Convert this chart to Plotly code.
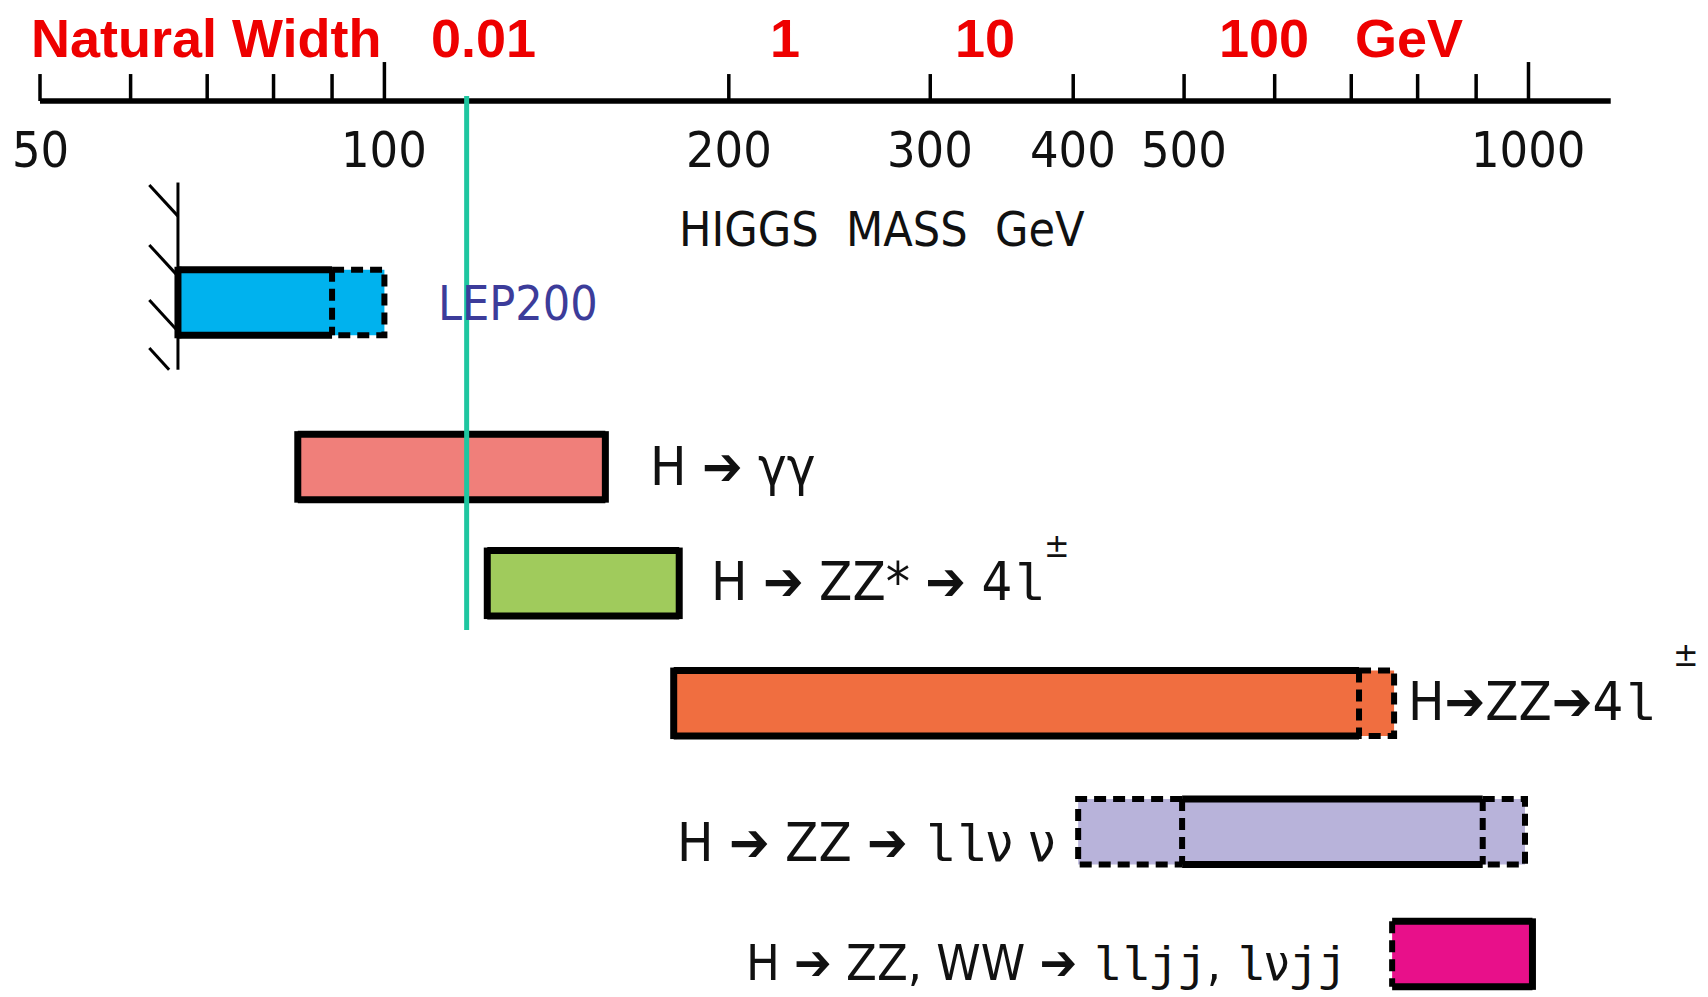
import numpy as np
import plotly.graph_objects as go

# ---------------- data ----------------
axis_mass_range = [50, 1180]
tick_mass = [50, 60, 70, 80, 90, 100, 200, 300, 400, 500, 600, 700, 800, 900, 1000]
tall_tick_mass = [100, 1000]
tick_label_mass = [50, 100, 200, 300, 400, 500, 1000]
tick_label_text = ["50", "100", "200", "300", "400", "500", "1000"]

width_text = ["Natural Width", "0.01", "1", "10", "100", "GeV"]
width_mass = [69.9, 122, 224, 335, 587, 786]

axis_title = "HIGGS\u00a0 MASS\u00a0 GeV"
axis_title_mass = 272

lep_limit_mass = 118

channels = ["LEP200", "H ➔ γγ", "H ➔ ZZ* ➔ 4l", "H➔ZZ➔4l",
            "H ➔ ZZ ➔ llν ν", "H ➔ ZZ, WW ➔ lljj, lνjj"]
row_pos = [1.0, 2.37, 3.34, 4.34, 5.41, 6.43]
bar_lo = [66, 84, 123, 179, 404, 760]
bar_hi = [100, 156, 181, 763, 993, 1008]
solid_lo = [66, 84, 123, 179, 498, 760]
solid_hi = [90, 156, 181, 711, 912, 1008]
bar_colors = ["#00B2EE", "#F07F7A", "#A0CB5C", "#F06E40", "#B8B3DA", "#E8108A"]
left_edge_dashed = [False, False, False, False, True, True]

label_mass = [111, 170, 192, 782, 387, 697]
label_anchor = ["left", "left", "left", "left", "right", "right"]
label_dy = [0.0, 0.0, 0.0, 0.0, 0.1, 0.08]
label_colors = ["#3C3C9A", "#111111", "#111111", "#111111", "#111111", "#111111"]
label_size = [48, 54, 54, 54, 54, 50]
label_mono_size = [52, 52, 52, 52, 52, 48]

pm_mass = [387, 1372]
pm_y = [3.02, 3.93]

wall_mass = 66
hatch_left_mass = 62.3
hatch_start_y = [0.02, 0.52, 0.98, 1.38]
wall_y = [0.0, 1.56]

# ---------------- styles ----------------
axis_y = -0.679
tick_top = -0.904
tall_tick_top = -1.004
tick_label_y = -0.271
width_label_y = -1.204
title_y = 0.3875
half_h = 0.273
hatch_dy = 0.26

NARROW = "DejaVu Sans Condensed, Liberation Sans Narrow, DejaVu Sans, sans-serif"
BOLD = "Liberation Sans, Arial, sans-serif"
MONO_SPAN = '<span style="font-family:Liberation Mono, monospace;font-size:{}px">{}</span>'


def styled(label, mono_size):
    out = ""
    for ch in label:
        if ch in "lj":
            out += MONO_SPAN.format(mono_size, ch)
        else:
            out += ch
    return out


fig = go.Figure()


def line(x, y, color="black", width=3, dash="solid"):
    fig.add_trace(go.Scatter(x=x, y=y, mode="lines",
                             line=dict(color=color, width=width, dash=dash),
                             hoverinfo="skip", showlegend=False))


# axis line + ticks
line(axis_mass_range, [axis_y, axis_y], width=5.5)
tx, ty = [], []
for m in tick_mass:
    top = tall_tick_top if m in tall_tick_mass else tick_top
    tx += [m, m, None]
    ty += [axis_y, top, None]
line(tx, ty, width=3.5)

# bars
for i in range(len(channels)):
    y0, y1 = row_pos[i] - half_h, row_pos[i] + half_h
    lo, hi, sl, sh = bar_lo[i], bar_hi[i], solid_lo[i], solid_hi[i]
    fig.add_trace(go.Scatter(x=[lo, hi, hi, lo, lo], y=[y0, y0, y1, y1, y0],
                             mode="lines", fill="toself", fillcolor=bar_colors[i],
                             line=dict(width=0, color=bar_colors[i]),
                             hoverinfo="skip", showlegend=False))
    sx, sy, dx, dy = [], [], [], []
    sx += [sl, sh, None, sl, sh, None]
    sy += [y0, y0, None, y1, y1, None]
    if lo < sl:
        dx += [sl, sl, None, sl, lo, lo, sl, None]
        dy += [y0, y1, None, y0, y0, y1, y1, None]
    elif left_edge_dashed[i]:
        dx += [lo, lo, None]
        dy += [y0, y1, None]
    else:
        sx += [lo, lo, None]
        sy += [y0 - 0.025, y1 + 0.025, None]
    if hi > sh:
        dx += [sh, sh, None, sh, hi, hi, sh, None]
        dy += [y0, y1, None, y0, y0, y1, y1, None]
    else:
        sx += [hi, hi, None]
        sy += [y0 - 0.025, y1 + 0.025, None]
    line(sx, sy, width=7)
    if dx:
        line(dx, dy, width=6, dash="12px,7px")

# LEP exclusion wall with hatching
line([wall_mass, wall_mass], wall_y, width=3)
hx, hy = [], []
for ys in hatch_start_y:
    ye = ys + hatch_dy
    xe = wall_mass
    if ye > wall_y[1]:
        frac = (wall_y[1] - ys) / hatch_dy
        xe = 10 ** (np.log10(hatch_left_mass) + frac * (np.log10(wall_mass) - np.log10(hatch_left_mass)))
        ye = wall_y[1]
    hx += [hatch_left_mass, xe, None]
    hy += [ys, ye, None]
line(hx, hy, width=3)

# LEP limit line
line([lep_limit_mass, lep_limit_mass], [-0.72, 3.73], color="#1EC6A0", width=5)

ann = []
for m, t in zip(tick_label_mass, tick_label_text):
    ann.append(dict(x=np.log10(m), y=tick_label_y, text=t, xanchor="center", yanchor="middle",
                    font=dict(family=NARROW, size=50, color="#111111")))
for m, t in zip(width_mass, width_text):
    ann.append(dict(x=np.log10(m), y=width_label_y, text="<b>" + t + "</b>",
                    xanchor="center", yanchor="middle",
                    font=dict(family=BOLD, size=54, color="#EE0000")))
ann.append(dict(x=np.log10(axis_title_mass), y=title_y, text=axis_title,
                xanchor="center", yanchor="middle",
                font=dict(family=NARROW, size=48, color="#111111")))
for i, t in enumerate(channels):
    ann.append(dict(x=np.log10(label_mass[i]), y=row_pos[i] + label_dy[i],
                    text=styled(t, label_mono_size[i]),
                    xanchor=label_anchor[i], yanchor="middle",
                    font=dict(family=NARROW, size=label_size[i], color=label_colors[i])))
for m, y in zip(pm_mass, pm_y):
    ann.append(dict(x=np.log10(m), y=y, text="±", xanchor="center", yanchor="middle",
                    font=dict(family=NARROW, size=34, color="#111111")))
for a in ann:
    a.update(xref="x", yref="y", showarrow=False)

fig.update_layout(
    width=1708, height=997,
    margin=dict(l=0, r=0, t=0, b=0),
    paper_bgcolor="white", plot_bgcolor="white",
    showlegend=False,
    xaxis=dict(type="log", range=[1.664, 3.1569], visible=False, fixedrange=True),
    yaxis=dict(range=[6.7875, -1.521], visible=False, fixedrange=True),
    annotations=ann,
)

fig.write_html("out.html")
